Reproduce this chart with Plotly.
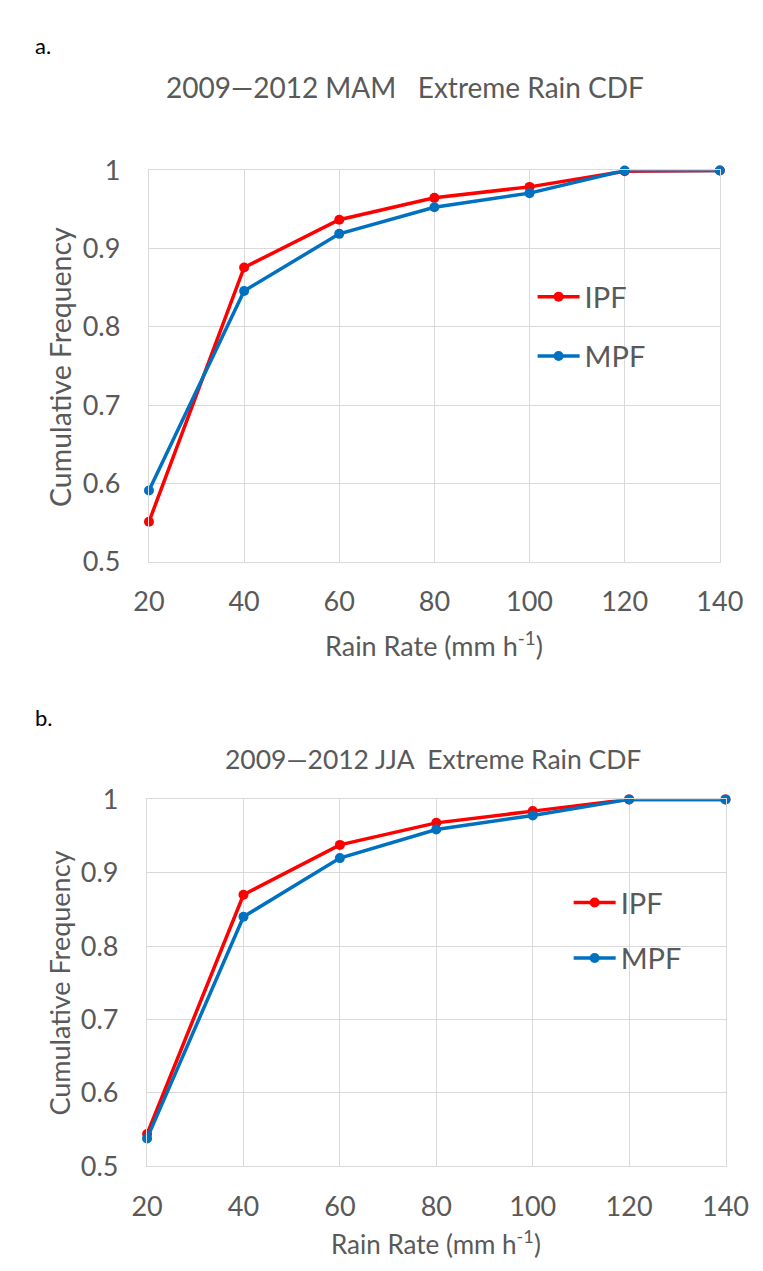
import plotly.graph_objects as go

W, H = 763, 1271

rain_rate = [20, 40, 60, 80, 100, 120, 140]
x_ticks = [20, 40, 60, 80, 100, 120, 140]
y_ticks = [0.5, 0.6, 0.7, 0.8, 0.9, 1.0]
y_tick_text = ["0.5", "0.6", "0.7", "0.8", "0.9", "1"]

mam_ipf = [0.551, 0.876, 0.937, 0.965, 0.979, 0.999, 1.0]
mam_mpf = [0.591, 0.846, 0.919, 0.953, 0.971, 1.0, 1.0]
jja_ipf = [0.544, 0.870, 0.938, 0.968, 0.984, 1.0, 1.0]
jja_mpf = [0.538, 0.840, 0.920, 0.959, 0.978, 1.0, 1.0]

RED = "#ff0000"
BLUE = "#0070c0"
GRID = "#d9d9d9"
TXT = "#595959"
FONT = "Lato"


def px(xp):
    return xp / W


def py(yp):
    return 1 - yp / H


fig = go.Figure()

series = [
    ("IPF", mam_ipf, RED, "x", "y", "legend"),
    ("MPF", mam_mpf, BLUE, "x", "y", "legend2"),
    ("IPF", jja_ipf, RED, "x2", "y2", "legend3"),
    ("MPF", jja_mpf, BLUE, "x2", "y2", "legend4"),
]
for name, vals, col, xa, ya, lg in series:
    fig.add_trace(go.Scatter(
        x=rain_rate, y=vals, name=name, mode="lines+markers",
        line=dict(color=col, width=3.5),
        marker=dict(color=col, size=10),
        xaxis=xa, yaxis=ya, legend=lg, cliponaxis=False, showlegend=True,
    ))

axis_common = dict(
    showgrid=True, gridcolor=GRID, gridwidth=1.3,
    showline=True, linecolor=GRID, linewidth=1.3, mirror=True,
    zeroline=False, ticks="outside", tickcolor="rgba(0,0,0,0)",
    tickfont=dict(family=FONT, size=27, color=TXT),
)

fig.update_layout(
    width=W, height=H, showlegend=True,
    margin=dict(l=0, r=0, t=0, b=0),
    paper_bgcolor="white", plot_bgcolor="white",
    font=dict(family=FONT, color=TXT),
    xaxis=dict(domain=[px(131.7), px(733.3)], range=[20, 140], anchor="y",
               tickvals=x_ticks, ticklen=16, **axis_common),
    yaxis=dict(domain=[py(550), py(148.3)], range=[0.5, 1.0], anchor="x",
               tickvals=y_ticks, ticktext=y_tick_text, ticklen=22, **axis_common),
    xaxis2=dict(domain=[px(129.7), px(739.3)], range=[20, 140], anchor="y2",
                tickvals=x_ticks, ticklen=16, **axis_common),
    yaxis2=dict(domain=[py(1170.7), py(794)], range=[0.5, 1.0], anchor="x2",
                tickvals=y_ticks, ticktext=y_tick_text, ticklen=22, **axis_common),
)

leg_common = dict(font=dict(family=FONT, size=29, color=TXT), bgcolor="rgba(0,0,0,0)",
                  xanchor="left", yanchor="middle", itemwidth=42,
                  borderwidth=0)
fig.update_layout(
    legend=dict(x=px(536), y=py(278), **leg_common),
    legend2=dict(x=px(536), y=py(339), **leg_common),
    legend3=dict(x=px(574), y=py(900), **leg_common),
    legend4=dict(x=px(574), y=py(957), **leg_common),
)

annotations = [
    dict(text="a.", x=px(10), y=py(20), font=dict(size=22, color="black")),
    dict(text="b.", x=px(10), y=py(710), font=dict(size=22, color="black")),
]
for a in annotations:
    a.update(xref="paper", yref="paper", xanchor="left", yanchor="middle",
             showarrow=False)
    a["font"]["family"] = FONT
    fig.add_annotation(**a)

texts = [
    ("2009\u20142012 MAM   Extreme Rain CDF", 402, 63, 0, 28),
    ("2009\u20142012 JJA  Extreme Rain CDF", 431, 753, 0, 26.5),
    ("Rain Rate (mm h<sup>-1</sup>)", 432, 634, 0, 27),
    ("Rain Rate (mm h<sup>-1</sup>)", 434, 1249, 0, 26),
    ("Cumulative Frequency", 38, 350, -90, 28.5),
    ("Cumulative Frequency", 37, 983, -90, 27),
]
for t, xx, yy, ang, fs in texts:
    fig.add_annotation(text=t, x=px(xx), y=py(yy), xref="paper", yref="paper",
                       xanchor="center", yanchor="middle", textangle=ang,
                       showarrow=False, font=dict(family=FONT, size=fs, color=TXT))

fig.write_html("out.html")
